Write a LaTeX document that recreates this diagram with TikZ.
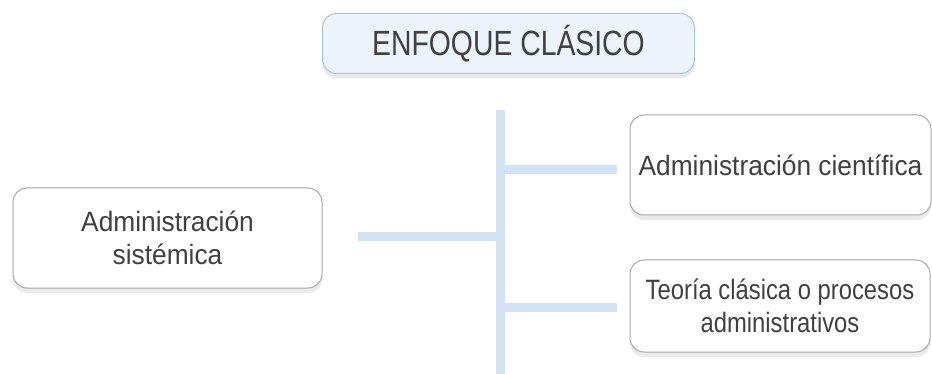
\documentclass[tikz,border=0pt]{standalone}
\usepackage{fontspec}
\setmainfont{Liberation Sans}
\newfontfamily\fontA[FakeStretch=0.94]{Liberation Sans}
\newfontfamily\fontB[FakeStretch=0.85]{Liberation Sans}
\newfontfamily\fontT[FakeStretch=0.81]{Liberation Sans}
\usetikzlibrary{shadows}
\definecolor{txt}{HTML}{404040}
\definecolor{linkblue}{HTML}{D3E2F4}
\definecolor{topfill}{HTML}{EDF3FB}
\definecolor{topborder}{HTML}{A8C5E6}
\definecolor{boxborder}{HTML}{A8A8A8}
\tikzset{
  box/.style={draw=boxborder, line width=1pt, fill=white, rounded corners=14pt,
    align=center, text=txt, inner sep=0pt,
    drop shadow={opacity=0.16, shadow xshift=0pt, shadow yshift=-5pt}},
  bodyA/.style={font=\fontA\fontsize{28}{33.5}\selectfont},
  bodyB/.style={font=\fontB\fontsize{28}{33.5}\selectfont},
  topbox/.style={box, draw=topborder, fill=topfill, font=\fontT\fontsize{35}{40}\selectfont},
  link/.style={draw=linkblue, line width=9pt}
}
\begin{document}
\begin{tikzpicture}[x=1pt,y=-1pt]
\useasboundingbox (0,0) rectangle (932,374);
\fill[white] (0,0) rectangle (932,374);
\node[topbox, minimum width=372pt, minimum height=60pt] (top) at (508.5,43.5) {ENFOQUE CLÁSICO};
\node[box, bodyA, minimum width=309pt, minimum height=100pt] (sist) at (167.5,238) {Administración\\sistémica};
\node[box, bodyA, minimum width=301pt, minimum height=100pt] (cient) at (780.5,165) {Administración científica};
\node[box, bodyB, minimum width=300pt, minimum height=92pt] (teoria) at (780,306) {Teoría clásica o procesos\\administrativos};
\coordinate (spinetop) at (500,110);
\coordinate (spinebot) at (500,374);
\coordinate (j1) at (500,170);
\coordinate (j2) at (500,307);
\coordinate (j0) at (500,237);
\draw[link] (spinetop) -- (spinebot);
\draw[link] (j1) -- ([xshift=-13pt]cient.west |- j1);
\draw[link] (j0) -- ([xshift=35pt]sist.east |- j0);
\draw[link] (j2) -- ([xshift=-13pt]teoria.west |- j2);
\end{tikzpicture}
\end{document}
